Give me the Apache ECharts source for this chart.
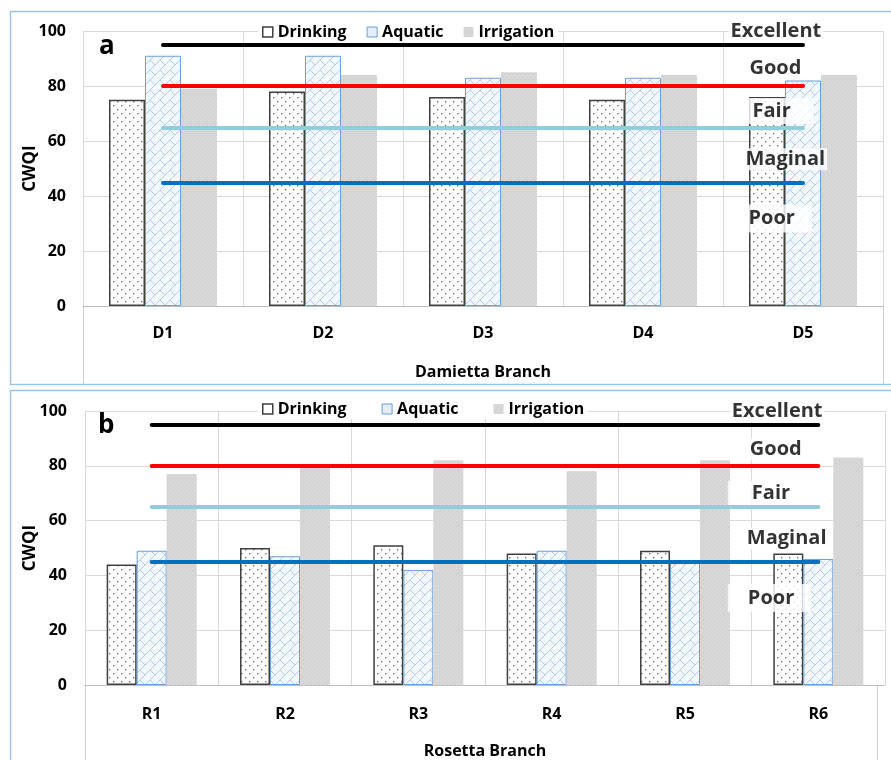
<!DOCTYPE html>
<html>
<head>
<meta charset="utf-8">
<script src="https://cdn.jsdelivr.net/npm/echarts@6/dist/echarts.min.js"></script>
<style>
html,body{margin:0;padding:0;background:#fff;}
#chart{width:891px;height:760px;}
</style>
</head>
<body>
<div id="chart"></div>
<script>
// ---------- data ----------
const categoriesA = ['D1', 'D2', 'D3', 'D4', 'D5'];
const drinkingA   = [75, 78, 76, 75, 76];
const aquaticA    = [91, 91, 83, 83, 82];
const irrigationA = [79, 84, 85, 84, 84];

const categoriesB = ['R1', 'R2', 'R3', 'R4', 'R5', 'R6'];
const drinkingB   = [44, 50, 51, 48, 49, 48];
const aquaticB    = [49, 47, 42, 49, 45, 46];
const irrigationB = [77, 80, 82, 78, 82, 83];

const thresholdValues = [95, 80, 65, 45];
const zoneNames = ['Excellent', 'Good', 'Fair', 'Maginal', 'Poor'];
const zoneLabelYA = [99.8, 86.3, 70.7, 53.2, 31.6];
const zoneLabelYB = [99.8, 85.9, 69.9, 53.2, 31.6];
const yTicks = [0, 20, 40, 60, 80, 100];
const seriesNames = ['Drinking', 'Aquatic', 'Irrigation'];

// ---------- styles ----------
const FONT = 'Open Sans';
const thresholdColors = ['#000000', '#ff0000', '#92cddc', '#0070c0'];

function makeCanvas(w, h) {
  const c = document.createElement('canvas');
  c.width = w; c.height = h;
  return c;
}
function dotPattern() {
  const c = makeCanvas(8, 8), g = c.getContext('2d');
  g.fillStyle = '#ffffff'; g.fillRect(0, 0, 8, 8);
  g.fillStyle = '#707070';
  g.fillRect(1, 1, 1.4, 1.4); g.fillRect(5, 5, 1.4, 1.4);
  return c;
}
function brickPattern() {
  const P = 20, H = 10, q = 5;
  const c = makeCanvas(P, P), g = c.getContext('2d');
  g.fillStyle = '#f3f8fd'; g.fillRect(0, 0, P, P);
  g.strokeStyle = '#b3cbed'; g.lineWidth = 1;
  g.beginPath();
  for (let s = -P; s <= 3 * P; s += H) { g.moveTo(s - P, P); g.lineTo(s, 0); }
  const segs = [[0, 0], [H, H], [0, H], [H, 0]];
  const offs = [-P, 0, P];
  offs.forEach(dx => offs.forEach(dy => segs.forEach(s => {
    g.moveTo(s[0] + dx, s[1] + dy); g.lineTo(s[0] + q + dx, s[1] + q + dy);
  })));
  g.stroke();
  return c;
}
function grayPattern() {
  const c = makeCanvas(4, 4), g = c.getContext('2d');
  g.fillStyle = '#d4d4d4'; g.fillRect(0, 0, 4, 4);
  g.fillStyle = '#e4e4e4';
  g.fillRect(0, 0, 1, 1); g.fillRect(2, 2, 1, 1);
  return c;
}
const dotFill = { image: dotPattern(), repeat: 'repeat' };
const brickFill = { image: brickPattern(), repeat: 'repeat' };
const grayFill = { image: grayPattern(), repeat: 'repeat' };

const barStyles = [
  { color: dotFill, borderColor: '#404040', borderWidth: 1.5 },
  { color: brickFill, borderColor: '#6b9fd6', borderWidth: 1 },
  { color: grayFill, borderWidth: 0 }
];
const legendItemStyles = [
  { color: '#ffffff', borderColor: '#404040', borderWidth: 1.5 },
  { color: '#e3eefa', borderColor: '#6b9fd6', borderWidth: 1 },
  { color: '#d6d6d6', borderWidth: 0 }
];

const labelCfgA = [
  { dx: -74, padding: [1, 2, 1, 2] },
  { dx: -55, padding: [1, 2, 1, 2] },
  { dx: -54, padding: [3, 23, 3, 4] },
  { dx: -59, padding: [1, 2, 1, 2] },
  { dx: -55, padding: [4, 17, 4, 1] }
];
const labelCfgB = [
  { dx: -88, padding: [1, 2, 1, 2] },
  { dx: -70, padding: [1, 2, 1, 2] },
  { dx: -90, padding: [2, 21, 2, 24] },
  { dx: -73, padding: [1, 2, 1, 2] },
  { dx: -90, padding: [4, 17, 4, 20] }
];

// ---------- builders ----------
function xAxisFor(gridIndex, cats, name, margin, nameGap) {
  return {
    type: 'category', gridIndex, data: cats,
    boundaryGap: true,
    axisLine: { show: true, lineStyle: { color: '#bfbfbf', width: 1 } },
    axisTick: { show: false },
    splitLine: { show: true, lineStyle: { color: '#d9d9d9', width: 1 } },
    axisLabel: { margin, fontFamily: FONT, fontWeight: 'bold', fontSize: 16, color: '#000' },
    name, nameLocation: 'middle', nameGap, nameMoveOverlap: false,
    nameTextStyle: { fontFamily: FONT, fontWeight: 'bold', fontSize: 16, color: '#000' }
  };
}
function yAxisFor(gridIndex, margin, nameGap) {
  return {
    type: 'value', gridIndex, min: yTicks[0], max: yTicks[yTicks.length - 1], interval: 20,
    axisLine: { show: false }, axisTick: { show: false },
    splitLine: { show: true, lineStyle: { color: '#d9d9d9', width: 1 } },
    axisLabel: { margin, fontFamily: FONT, fontWeight: 'bold', fontSize: 16, color: '#000' },
    name: 'CWQI', nameLocation: 'middle', nameGap, nameRotate: 90, nameMoveOverlap: false,
    nameTextStyle: { fontFamily: FONT, fontWeight: 'bold', fontSize: 17, color: '#000' }
  };
}
function barsFor(idx, values) {
  return values.map((vals, i) => ({
    name: seriesNames[i], type: 'bar', xAxisIndex: idx, yAxisIndex: idx,
    data: vals, barWidth: '22.5%', barGap: '0%',
    itemStyle: barStyles[i], z: 2, silent: true
  }));
}
function zonesFor(idx, cats, ys, cfg) {
  return {
    name: 'zones', type: 'scatter', xAxisIndex: idx, yAxisIndex: idx,
    symbolSize: 1, itemStyle: { color: 'rgba(0,0,0,0)' }, z: 8, silent: true, clip: false,
    data: ys.map((y, i) => ({
      name: zoneNames[i], value: [cats[cats.length - 1], y],
      label: {
        show: true, formatter: '{b}', position: [cfg[i].dx, 0],
        align: 'left', verticalAlign: 'middle',
        fontFamily: FONT, fontWeight: 'bold', fontSize: 20, color: '#000',
        backgroundColor: '#ffffff', padding: cfg[i].padding
      }
    })),
    markLine: {
      silent: true, symbol: ['none', 'none'],
      label: { show: false },
      data: thresholdValues.map((t, k) => [
        { xAxis: cats[0], yAxis: t, lineStyle: { color: thresholdColors[k], width: 4, type: 'solid', cap: 'round' } },
        { xAxis: cats[cats.length - 1], yAxis: t }
      ])
    }
  };
}
function legendFor(top, itemGap) {
  return {
    top, left: 258, orient: 'horizontal', padding: [2, 4],
    backgroundColor: '#ffffff', itemWidth: 10, itemHeight: 10, itemGap,
    icon: 'rect', selectedMode: false,
    textStyle: { fontFamily: FONT, fontWeight: 'bold', fontSize: 16, color: '#000' },
    data: seriesNames.map((n, i) => ({ name: n, itemStyle: legendItemStyles[i] }))
  };
}

const option = {
  animation: false,
  backgroundColor: '#ffffff',
  title: [
    { text: 'a', left: 99, top: 34, padding: 0, textStyle: { fontFamily: FONT, fontWeight: 'bold', fontSize: 26, color: '#000' } },
    { text: 'b', left: 98, top: 413, padding: 0, textStyle: { fontFamily: FONT, fontWeight: 'bold', fontSize: 26, color: '#000' } }
  ],
  legend: [legendFor(22, 20), legendFor(399, 35)],
  grid: [
    { left: 83, right: 8, top: 31, height: 275 },
    { left: 85, right: 6, top: 411, height: 275 }
  ],
  xAxis: [
    xAxisFor(0, categoriesA, 'Damietta Branch', 19, 58),
    xAxisFor(1, categoriesB, 'Rosetta Branch', 21, 58)
  ],
  yAxis: [yAxisFor(0, 17, 44), yAxisFor(1, 18, 46)],
  graphic: [
    { type: 'rect', shape: { x: 10.5, y: 11.5, width: 900, height: 373 }, style: { fill: 'none', stroke: '#9dc3e6', lineWidth: 1.5 }, z: 0, silent: true },
    { type: 'rect', shape: { x: 10.5, y: 390.5, width: 900, height: 400 }, style: { fill: 'none', stroke: '#9dc3e6', lineWidth: 1.5 }, z: 0, silent: true },
    { type: 'line', shape: { x1: 83.5, y1: 306, x2: 83.5, y2: 384 }, style: { stroke: '#d0d0d0', lineWidth: 1 }, silent: true },
    { type: 'line', shape: { x1: 883.5, y1: 306, x2: 883.5, y2: 384 }, style: { stroke: '#d0d0d0', lineWidth: 1 }, silent: true },
    { type: 'line', shape: { x1: 85.5, y1: 686, x2: 85.5, y2: 760 }, style: { stroke: '#d0d0d0', lineWidth: 1 }, silent: true },
    { type: 'line', shape: { x1: 877.5, y1: 686, x2: 877.5, y2: 760 }, style: { stroke: '#d0d0d0', lineWidth: 1 }, silent: true }
  ],
  series: [
    ...barsFor(0, [drinkingA, aquaticA, irrigationA]),
    ...barsFor(1, [drinkingB, aquaticB, irrigationB]),
    zonesFor(0, categoriesA, zoneLabelYA, labelCfgA),
    zonesFor(1, categoriesB, zoneLabelYB, labelCfgB)
  ]
};

const chart = echarts.init(document.getElementById('chart'), null, { renderer: 'canvas' });
chart.setOption(option);
</script>
</body>
</html>
